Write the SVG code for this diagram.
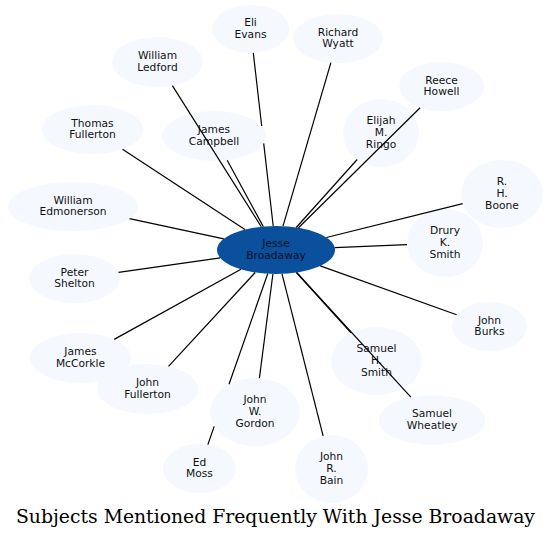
<svg xmlns="http://www.w3.org/2000/svg" width="552" height="539" viewBox="0 0 552 539">
<style>
.n ellipse{fill:#f5f9ff;stroke:none}
.n text{font-family:"DejaVu Sans",sans-serif;font-size:10.7px;fill:#111;text-anchor:middle}
#c ellipse{fill:#0b509c}
#c text{fill:#0a0f1e}
.e path{fill:none;stroke:#000;stroke-width:1.2}
.title{font-family:"DejaVu Serif",serif;font-size:18.8px;fill:#000}
</style>
<rect width="552" height="539" fill="#fff"/>
<g id="nodes">
<g class="n" id="eli"><ellipse cx="250.5" cy="29" rx="38.5" ry="24"/><text x="250.5" y="26.2">Eli</text><text x="250.5" y="37.9">Evans</text></g>
<g class="n" id="wyatt"><ellipse cx="338" cy="38.5" rx="45" ry="24.5"/><text x="338" y="35.7">Richard</text><text x="338" y="47.4">Wyatt</text></g>
<g class="n" id="howell"><ellipse cx="441.5" cy="86.5" rx="42.5" ry="24.5"/><text x="441.5" y="83.7">Reece</text><text x="441.5" y="95.4">Howell</text></g>
<g class="n" id="ringo"><ellipse cx="381" cy="133" rx="38" ry="34"/><text x="381" y="124.3">Elijah</text><text x="381" y="136">M.</text><text x="381" y="147.7">Ringo</text></g>
<g class="n" id="boone"><ellipse cx="502" cy="194" rx="41" ry="34"/><text x="502" y="185.3">R.</text><text x="502" y="197">H.</text><text x="502" y="208.7">Boone</text></g>
<g class="n" id="drury"><ellipse cx="445" cy="243" rx="38" ry="34"/><text x="445" y="234.3">Drury</text><text x="445" y="246">K.</text><text x="445" y="257.7">Smith</text></g>
<g class="n" id="burks"><ellipse cx="489.5" cy="326.5" rx="37.5" ry="24.5"/><text x="489.5" y="323.7">John</text><text x="489.5" y="335.4">Burks</text></g>
<g class="n" id="shsmith"><ellipse cx="376.5" cy="361" rx="45.5" ry="34"/><text x="376.5" y="352.3">Samuel</text><text x="376.5" y="364">H.</text><text x="376.5" y="375.7">Smith</text></g>
<g class="n" id="wheatley"><ellipse cx="432" cy="420" rx="53" ry="25"/><text x="432" y="417.2">Samuel</text><text x="432" y="428.9">Wheatley</text></g>
<g class="n" id="bain"><ellipse cx="331.5" cy="469" rx="36.5" ry="34"/><text x="331.5" y="460.3">John</text><text x="331.5" y="472">R.</text><text x="331.5" y="483.7">Bain</text></g>
<g class="n" id="gordon"><ellipse cx="255" cy="412" rx="45" ry="34"/><text x="255" y="403.3">John</text><text x="255" y="415">W.</text><text x="255" y="426.7">Gordon</text></g>
<g class="n" id="moss"><ellipse cx="199.5" cy="468.5" rx="36.5" ry="24.5"/><text x="199.5" y="465.7">Ed</text><text x="199.5" y="477.4">Moss</text></g>
<g class="n" id="jfullerton"><ellipse cx="147.5" cy="389" rx="50.5" ry="25"/><text x="147.5" y="386.2">John</text><text x="147.5" y="397.9">Fullerton</text></g>
<g class="n" id="mccorkle"><ellipse cx="80.5" cy="358" rx="50.5" ry="25"/><text x="80.5" y="355.2">James</text><text x="80.5" y="366.9">McCorkle</text></g>
<g class="n" id="shelton"><ellipse cx="74.5" cy="278.5" rx="45.5" ry="24.5"/><text x="74.5" y="275.7">Peter</text><text x="74.5" y="287.4">Shelton</text></g>
<g class="n" id="edmonerson"><ellipse cx="73" cy="206.5" rx="65" ry="24.5"/><text x="73" y="203.7">William</text><text x="73" y="215.4">Edmonerson</text></g>
<g class="n" id="tfullerton"><ellipse cx="92.5" cy="129.5" rx="50.5" ry="24.5"/><text x="92.5" y="126.7">Thomas</text><text x="92.5" y="138.4">Fullerton</text></g>
<g class="n" id="campbell"><ellipse cx="214" cy="136" rx="52" ry="25"/><text x="214" y="133.2">James</text><text x="214" y="144.9">Campbell</text></g>
<g class="n" id="ledford"><ellipse cx="157.5" cy="62" rx="45.5" ry="25"/><text x="157.5" y="59.2">William</text><text x="157.5" y="70.9">Ledford</text></g>
<g class="n" id="c"><ellipse cx="276" cy="250" rx="59" ry="24"/><text x="276" y="247.2">Jesse</text><text x="276" y="258.9">Broadaway</text></g>
</g>
<g class="e" id="connectors">
<path d="M253.3,52.9 L261.7,126 M263.7,143.4 L273.2,226"/>
<path d="M283,226.2 L330.9,62.7"/>
<path d="M298.5,227.8 L420.1,107.7"/>
<path d="M296.2,227.5 L357.2,159.5"/>
<path d="M326.4,237.5 L462.7,203.7"/>
<path d="M334.7,247.6 L407,244.6"/>
<path d="M320.3,265.9 L456.6,314.7"/>
<path d="M296.4,272.5 L351,332.8"/>
<path d="M296.6,272.5 L410.9,397.1"/>
<path d="M282,273.9 L323.1,435.9"/>
<path d="M272.9,274 L259.4,378.2"/>
<path d="M267.7,273.8 L229,384.3 M214.2,426.4 L207.85,444.65"/>
<path d="M255.2,272.5 L168.5,366.3"/>
<path d="M241,269.3 L114.2,339.4"/>
<path d="M220.3,257.9 L118.5,272.3"/>
<path d="M223.8,238.8 L129.5,218.6"/>
<path d="M244.9,229.6 L122.5,149.2"/>
<path d="M263.3,226.6 L227.2,160.2"/>
<path d="M261.3,226.7 L172.4,85.6"/>
</g>
<text class="title" x="16" y="523" textLength="519" lengthAdjust="spacingAndGlyphs">Subjects Mentioned Frequently With Jesse Broadaway</text>
</svg>
